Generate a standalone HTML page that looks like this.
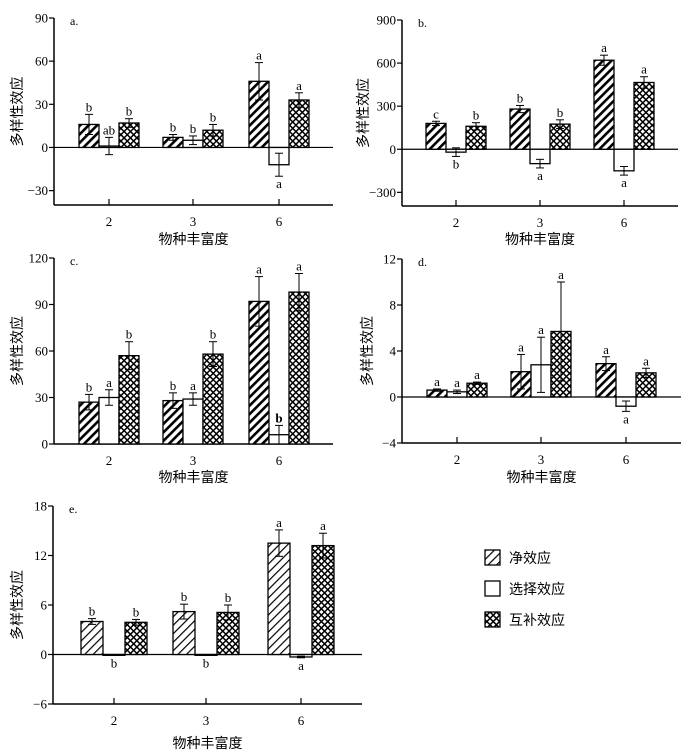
<!DOCTYPE html>
<html><head><meta charset="utf-8">
<style>
html,body{margin:0;padding:0;background:#fff;}
svg{display:block;font-family:"Liberation Serif","Noto Serif CJK SC",serif;}
.cj{font-family:"Liberation Serif","Noto Sans CJK SC",sans-serif;}
</style></head><body>
<svg id="chart" width="696" height="756" viewBox="0 0 696 756" xmlns="http://www.w3.org/2000/svg">
<defs>
<pattern id="hatch" patternUnits="userSpaceOnUse" width="6" height="6" patternTransform="rotate(45)">
<rect width="6" height="6" fill="#fff"/><rect x="0" y="0" width="2.6" height="6" fill="#000"/></pattern>
<pattern id="hatchLight" patternUnits="userSpaceOnUse" width="6" height="6" patternTransform="rotate(45)">
<rect width="6" height="6" fill="#fff"/><rect x="0" y="0" width="1.2" height="6" fill="#000"/></pattern>
<pattern id="cross" patternUnits="userSpaceOnUse" width="4.5" height="4.5" patternTransform="rotate(45)">
<rect width="4.5" height="4.5" fill="#fff"/><rect x="0" y="0" width="1.5" height="4.5" fill="#000"/><rect x="0" y="0" width="4.5" height="1.5" fill="#000"/></pattern>
</defs>
</svg>
<script>
// ---- data ----
const categories = ["2","3","6"];
const aNet=[16,7,46], aNetErr=[7,2,13], aSel=[1,5,-12], aSelErr=[6,3,8], aComp=[17,12,33], aCompErr=[3,4,5];
const aNetLab=["b","b","a"], aSelLab=["ab","b","a"], aCompLab=["b","b","a"];
const aTicks=[-30,0,30,60,90];
const bNet=[180,280,620], bNetErr=[15,25,35], bSel=[-20,-100,-150], bSelErr=[30,30,30], bComp=[160,175,465], bCompErr=[25,30,40];
const bNetLab=["c","b","a"], bSelLab=["b","a","a"], bCompLab=["b","b","a"];
const bTicks=[-300,0,300,600,900];
const cNet=[27,28,92], cNetErr=[5,5,16], cSel=[30,29,6], cSelErr=[5,4,6], cComp=[57,58,98], cCompErr=[9,8,12];
const cNetLab=["b","b","a"], cSelLab=["a","a","b"], cCompLab=["b","b","a"];
const cTicks=[0,30,60,90,120];
const dNet=[0.6,2.2,2.9], dNetErr=[0.1,1.5,0.6], dSel=[0.45,2.8,-0.8], dSelErr=[0.15,2.4,0.45], dComp=[1.2,5.7,2.1], dCompErr=[0.1,4.3,0.4];
const dNetLab=["a","a","a"], dSelLab=["a","a","a"], dCompLab=["a","a","a"];
const dTicks=[-4,0,4,8,12];
const eNet=[4,5.2,13.5], eNetErr=[0.35,0.9,1.6], eSel=[-0.1,-0.1,-0.3], eSelErr=[0,0,0.1], eComp=[3.9,5.1,13.2], eCompErr=[0.35,0.9,1.5];
const eNetLab=["b","b","a"], eSelLab=["b","b","a"], eCompLab=["b","b","a"];
const eTicks=[-6,0,6,12,18];

const svg=document.getElementById('chart');
const NS="http://www.w3.org/2000/svg";
function mk(tag,attrs,parent){const e=document.createElementNS(NS,tag);for(const k in attrs)e.setAttribute(k,attrs[k]);(parent||svg).appendChild(e);return e;}
function txt(s,x,y,size,anchor,parent,cls){const t=mk('text',{x:x,y:y,'font-size':size,'text-anchor':anchor||'middle',fill:'#000'},parent);if(cls)t.setAttribute('class',cls);t.textContent=s;return t;}

function panel(p){
  const g=mk('g',{});
  
  
  const ys=v=>p.yB+(v-p.dMin)/(p.dMax-p.dMin)*(p.yT-p.yB);
  const y0=ys(0);
  const ya=mk('line',{x1:p.x0,y1:ys(p.ticks[p.ticks.length-1]),x2:p.x0,y2:p.yB,stroke:'#000','stroke-width':1.5},g);
  
  
  p.ticks.forEach(t=>{
    mk('line',{x1:p.x0-5,y1:ys(t),x2:p.x0,y2:ys(t),stroke:'#000','stroke-width':1.2},g);
    const lbl=txt((t<0?'\u2212'+(-t):String(t)),p.x0-6,ys(t)+4.5,13,'end',g);
    
    
  });
  const xa=mk('line',{x1:p.x0,y1:p.yB,x2:p.x1,y2:p.yB,stroke:'#000','stroke-width':1.5},g);
  
  
  if(p.dMin<0){
    const zl=mk('line',{x1:p.x0,y1:y0,x2:p.x1,y2:y0,stroke:'#000','stroke-width':1.2},g);
    
    
  }
  const series=[[p.net,p.netE,p.netL,p.netFill,'net'],[p.sel,p.selE,p.selL,'#fff','sel'],[p.comp,p.compE,p.compL,'url(#cross)','comp']];
  categories.forEach((c,i)=>{
    const cx=p.cx[i];
    if(p.dMin<0) mk('line',{x1:cx,y1:p.yB,x2:cx,y2:p.yB-6,stroke:'#000','stroke-width':1.2},g);
    const xl=txt(c,cx,p.yB+21,13,'middle',g);
    
    
    series.forEach((s,j)=>{
      const v=s[0][i],e=s[1][i];
      const bx=cx-1.5*p.bw+j*p.bw;
      const top=Math.min(ys(v),y0),h=Math.abs(ys(v)-y0);
      const r=mk('rect',{x:bx,y:top,width:p.bw,height:Math.max(h,0.8),fill:s[3],stroke:'#000','stroke-width':1.3},g);
      
      
      const mx=bx+p.bw/2;
      if(e>0){
        const e1=ys(v+e),e2=ys(v-e);
        mk('line',{x1:mx,y1:e1,x2:mx,y2:e2,stroke:'#000','stroke-width':1},g);
        mk('line',{x1:mx-4,y1:e1,x2:mx+4,y2:e1,stroke:'#000','stroke-width':1},g);
        mk('line',{x1:mx-4,y1:e2,x2:mx+4,y2:e2,stroke:'#000','stroke-width':1},g);
      }
      const ly = v>=0 ? ys(v+e)-3 : ys(v-e)+12;
      const L=txt(s[2][i],mx,ly,13,'middle',g);
      if(p.bold && p.bold[0]===j && p.bold[1]===i) L.setAttribute('font-weight','bold');
      
      
    });
  });
  const pl=txt(p.id+'.',p.x0+16,ys(p.ticks[p.ticks.length-1])+7,12,'start',g);
  
  
  const xt=txt('物种丰富度',(p.x0+p.x1)/2,p.xtY,14,'middle',g,'cj');
  
  
  const yc=(ys(p.ticks[p.ticks.length-1])+p.yB)/2;
  const yt=txt('多样性效应',0,0,14,'middle',g,'cj');
  yt.setAttribute('transform','translate('+p.ytX+','+yc+') rotate(-90)');
  
  
}

panel({id:'a',x0:54,x1:333,yT:18,yB:205,dMin:-40,dMax:90,ticks:aTicks,cx:[109,193,279],bw:20,net:aNet,netE:aNetErr,netL:aNetLab,netFill:'url(#hatch)',sel:aSel,selE:aSelErr,selL:aSelLab,comp:aComp,compE:aCompErr,compL:aCompLab,xtY:244,ytX:22});
panel({id:'b',x0:402,x1:678,yT:20,yB:206,dMin:-395,dMax:900,ticks:bTicks,cx:[456,540,624],bw:20,net:bNet,netE:bNetErr,netL:bNetLab,netFill:'url(#hatch)',sel:bSel,selE:bSelErr,selL:bSelLab,comp:bComp,compE:bCompErr,compL:bCompLab,xtY:244,ytX:368});
panel({id:'c',x0:54,x1:333,yT:258,yB:444,dMin:0,dMax:120,ticks:cTicks,cx:[109,193,279],bw:20,net:cNet,netE:cNetErr,netL:cNetLab,netFill:'url(#hatch)',sel:cSel,selE:cSelErr,selL:cSelLab,comp:cComp,compE:cCompErr,compL:cCompLab,xtY:482,ytX:22,bold:[1,2]});
panel({id:'d',x0:402,x1:681,yT:259,yB:443,dMin:-4,dMax:12,ticks:dTicks,cx:[457,541,626],bw:20,net:dNet,netE:dNetErr,netL:dNetLab,netFill:'url(#hatch)',sel:dSel,selE:dSelErr,selL:dSelLab,comp:dComp,compE:dCompErr,compL:dCompLab,xtY:482,ytX:372});
panel({id:'e',x0:53,x1:362,yT:506,yB:704,dMin:-6,dMax:18,ticks:eTicks,cx:[114,206,301],bw:22,net:eNet,netE:eNetErr,netL:eNetLab,netFill:'url(#hatchLight)',sel:eSel,selE:eSelErr,selL:eSelLab,comp:eComp,compE:eCompErr,compL:eCompLab,xtY:748,ytX:22});

const leg=mk('g',{});


[['净效应','url(#hatchLight)',558],['选择效应','#fff',589],['互补效应','url(#cross)',620]].forEach(l=>{
  const r=mk('rect',{x:485,y:l[2]-8,width:15,height:15,fill:l[1],stroke:'#000','stroke-width':1.3},leg);
  
  
  const t=txt(l[0],509,l[2]+5,14,'start',leg,'cj');
  
  
});
</script>
</body></html>
